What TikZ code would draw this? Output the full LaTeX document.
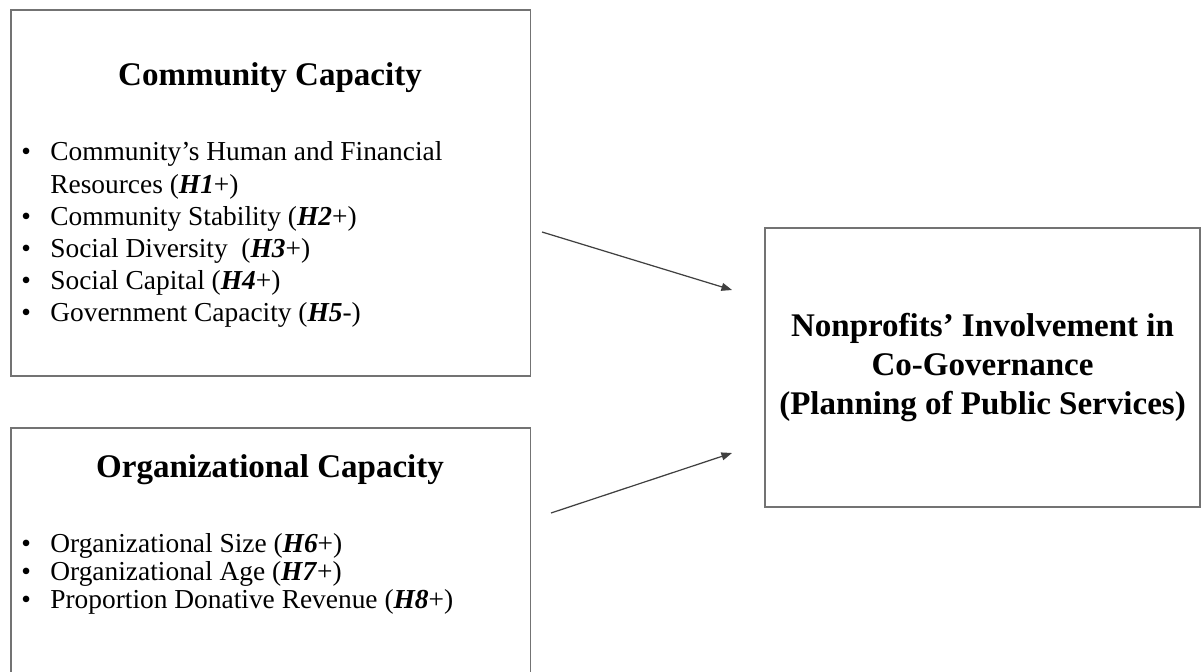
\documentclass[tikz,border=0pt]{standalone}
\usepackage{fontspec}
\setmainfont{Liberation Serif}
\usetikzlibrary{arrows.meta}

\tikzset{
  capbox/.style={draw=black!55, line width=0.9pt, inner sep=0pt},
  captitle/.style={font=\fontsize{18.8}{22.2}\selectfont\bfseries, anchor=base, inner sep=0pt},
  caplist/.style={font=\fontsize{15.6}{18.3}\selectfont, anchor=base west, inner sep=0pt},
  orglist/.style={caplist, font=\fontsize{15.6}{16.2}\selectfont},
  effect/.style={draw=black!75, line width=0.7pt, -{Triangle[length=6pt,width=4.5pt]}}
}
\newcommand{\hyp}[1]{\textbf{\textit{#1}}}
\newcommand{\bul}{\makebox[16.5pt][l]{\textbullet}}

\begin{document}
\begin{tikzpicture}[x=0.02cm, y=-0.02cm]
  \useasboundingbox (0,0) rectangle (1203,672);
  \clip (0,0) rectangle (1203,672);

  % boxes
  \node[capbox, anchor=north west, minimum width=10.4cm, minimum height=7.32cm] (community) at (10,9) {};
  \node[capbox, anchor=north west, minimum width=10.4cm, minimum height=5.3cm] (organization) at (10,427) {};
  \node[capbox, minimum width=8.7cm, minimum height=5.58cm, align=center,
        font=\fontsize{18.8}{22.2}\selectfont\bfseries] (involvement) at (982.5,367.5)
        {Nonprofits' Involvement in\\Co-Governance\\(Planning of Public Services)};

  % community capacity
  \node[captitle] (commtitle) at (270,86) {Community Capacity};
  \node[caplist] (commlist) at (21,161) {\begin{tabular}[t]{@{}l@{}}
    \bul Community's Human and Financial\\
    \hspace{16.5pt}Resources (\hyp{H1}+)\\
    \bul Community Stability (\hyp{H2}+)\\
    \bul Social Diversity \ (\hyp{H3}+)\\
    \bul Social Capital (\hyp{H4}+)\\
    \bul Government Capacity (\hyp{H5}-)
  \end{tabular}};

  % organizational capacity
  \node[captitle] (orgtitle) at (270,477) {Organizational Capacity};
  \node[orglist] (orgitems) at (21,552) {\begin{tabular}[t]{@{}l@{}}
    \bul Organizational Size (\hyp{H6}+)\\
    \bul Organizational Age (\hyp{H7}+)\\
    \bul Proportion Donative Revenue (\hyp{H8}+)
  \end{tabular}};

  % effects
  \coordinate (commout) at (542,232);
  \coordinate (commin) at (732,290);
  \coordinate (orgout) at (551,513);
  \coordinate (orgin) at (732,453);
  \draw[effect] (commout) -- (commin);
  \draw[effect] (orgout) -- (orgin);
\end{tikzpicture}
\end{document}
